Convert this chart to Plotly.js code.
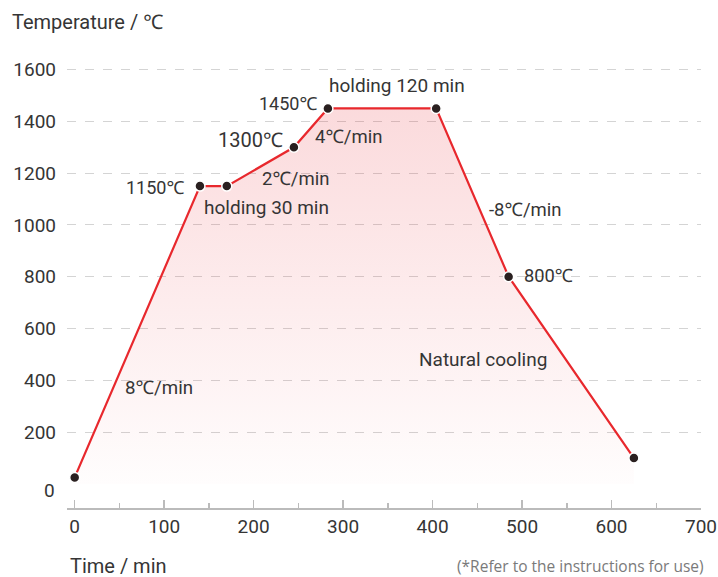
<!DOCTYPE html>
<html>
<head>
<meta charset="utf-8">
<script src="https://cdn.plot.ly/plotly-3.0.1.min.js"></script>
<style>html,body{margin:0;padding:0;background:#fff;}#chart{width:718px;height:577px;}</style>
</head>
<body>
<div id="chart"></div>
<script>
// Data: firing curve (time in min, temperature in ℃)
const timeMin = [0, 140, 170, 245, 283, 404, 485, 625];
const tempC   = [25, 1150, 1150, 1300, 1450, 1450, 800, 100];
const yTicks  = [200, 400, 600, 800, 1000, 1200, 1400, 1600];
const xTicks  = [0, 100, 200, 300, 400, 500, 600, 700];

// Label texts
const labelTexts = ["holding 120 min", "1450℃", "1300℃", "4℃/min", "2℃/min", "1150℃",
                    "holding 30 min", "-8℃/min", "800℃", "Natural cooling", "8℃/min"];
// Label anchor positions (layout only)
const labelPos = [[360.6,1537],[238.5,1470],[196.5,1328],[305.7,1341],[246.9,1177],[90.1,1144],
                  [214.4,1068],[503.9,1058],[529.3,806],[456.1,480],[94.3,372]];
const labelSize = [19,18,20,18.5,18.5,18,19,18.5,18.3,19,18.7];

const FONT = "Roboto, 'Noto Sans', sans-serif";
const TXT = "#353535";

const trace = {
  x: timeMin, y: tempC,
  type: "scatter", mode: "lines+markers",
  fill: "tozeroy",
  fillgradient: {type: "vertical", colorscale: [[0, "rgba(232,40,50,0.01)"], [1, "rgba(232,40,50,0.17)"]]},
  line: {color: "#e8282d", width: 2.2},
  marker: {color: "#2a2020", size: 10, line: {color: "#ffffff", width: 1.5}},
  hoverinfo: "skip"
};

const annotations = labelTexts.map((t, i) => ({
  x: labelPos[i][0], y: labelPos[i][1], xref: "x", yref: "y",
  text: t, showarrow: false, xanchor: "center", yanchor: "middle",
  font: {family: FONT, size: labelSize[i], color: TXT}
}));

annotations.push(
  {x: 0, y: 0, xref: "paper", yref: "y", xshift: -10, yshift: -7, text: "0", showarrow: false,
   xanchor: "right", yanchor: "middle", font: {family: FONT, size: 19, color: TXT}},
  {x: 10, y: 22, text: "Temperature / ℃", showarrow: false,
   xanchor: "left", yanchor: "middle", font: {family: FONT, size: 20, color: TXT}},
  {x: 68, y: 566, text: "Time / min", showarrow: false,
   xanchor: "left", yanchor: "middle", font: {family: FONT, size: 20, color: TXT}},
  {x: 705, y: 566, text: "(*Refer to the instructions for use)", showarrow: false, borderpad: 0,
   xanchor: "right", yanchor: "middle", font: {family: "'Open Sans', sans-serif", size: 15.5, color: "#7a7a7a"}}
);

// convert pixel-placed text annotations (last three) to paper coords
const W = 718, H = 577, mL = 67, mR = 17, mT = 60, mB = 69;
const pw = W - mL - mR, ph = H - mT - mB;
for (let k = annotations.length - 3; k < annotations.length; k++) {
  const a = annotations[k];
  a.xref = "paper"; a.yref = "paper";
  a.x = (a.x - mL) / pw;
  a.y = 1 - (a.y - mT) / ph;
}

const layout = {
  width: W, height: H,
  margin: {l: mL, r: mR, t: mT, b: mB, pad: 0},
  paper_bgcolor: "#ffffff", plot_bgcolor: "#ffffff",
  showlegend: false,
  font: {family: FONT, color: TXT},
  xaxis: {
    range: [-8.6, 700], tickvals: xTicks, ticktext: xTicks.map(String),
    showgrid: false, zeroline: false,
    showline: true, linecolor: "#bbbbbb", linewidth: 2,
    ticks: "inside", ticklen: 8, tickwidth: 1.5, tickcolor: "#bbbbbb",
    minor: {dtick: 50, tick0: 0, ticks: "inside", ticklen: 5, tickwidth: 1.5, tickcolor: "#bbbbbb", showgrid: false},
    tickfont: {family: FONT, size: 19, color: TXT},
    fixedrange: true
  },
  yaxis: {
    range: [-93, 1637], tickvals: yTicks, ticktext: yTicks.map(String),
    showgrid: true, gridcolor: "#d4d4d4", gridwidth: 1, griddash: "dash",
    zeroline: false, showline: false, ticks: "",
    ticklabelstandoff: 10,
    tickfont: {family: FONT, size: 19, color: TXT},
    fixedrange: true
  },
  annotations: annotations
};

Plotly.newPlot("chart", [trace], layout, {displayModeBar: false, staticPlot: true});
</script>
</body>
</html>
